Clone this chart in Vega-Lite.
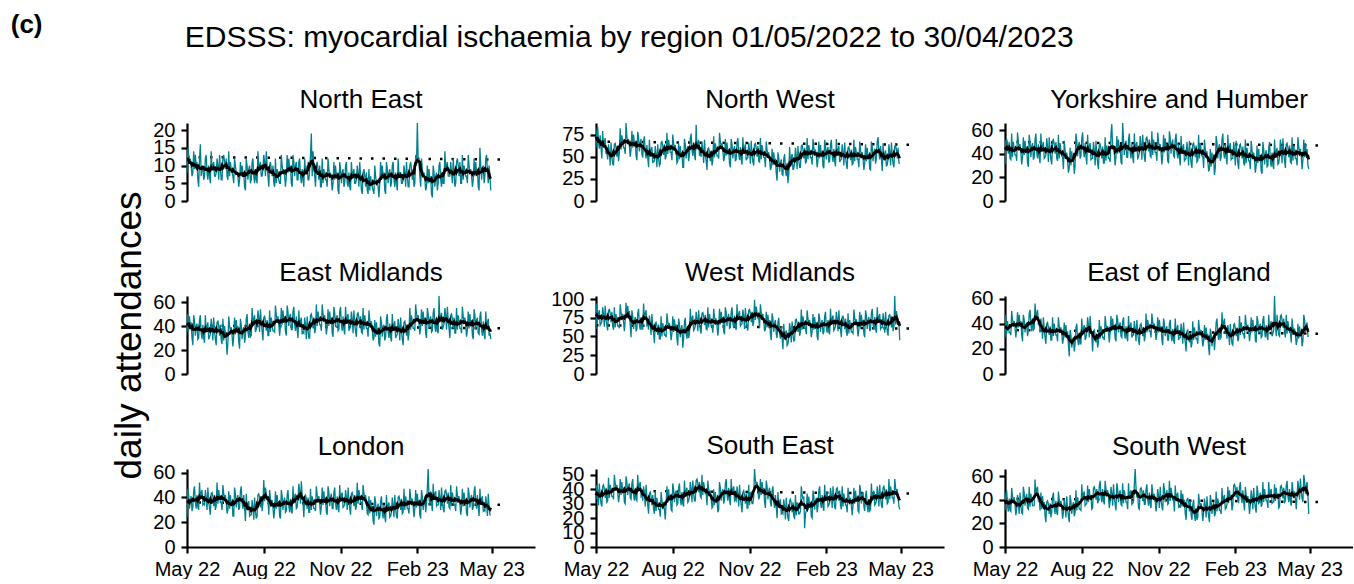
{
"$schema":"https://vega.github.io/schema/vega-lite/v6.json",
"background":"white",
"padding":{"left":10,"top":12,"right":0,"bottom":0},
"config":{
"font":"Liberation Sans",
"view":{"stroke":null},
"axis":{"domainColor":"black","domainWidth":2.2,"tickColor":"black","tickWidth":2.2,"tickSize":6,"labelColor":"black","labelFontSize":20,"labelPadding":6,"grid":false,"titleColor":"black","titleFontWeight":"normal","titleFontSize":37,"titlePadding":4},
"axisX":{"labelPadding":6},
"axisY":{"labelOverlap":false},
"title":{"font":"Liberation Sans","fontSize":26,"fontWeight":"normal","color":"black","offset":7}
},
"datasets":{"daily":[
{"d":"2022-05-01","t":"b","a":12.4,"b":67,"c":50,"e":40.5,"f":65,"g":35,"h":36,"i":39,"j":41},
{"d":"2023-05-16","t":"b","a":11.7,"b":63.5,"c":47,"e":38,"f":60.5,"g":32,"h":34,"i":37,"j":38},
{"d":"2022-05-01","a":8,"b":60,"c":31,"e":35,"f":60,"g":29,"h":24,"i":33,"j":31},
{"d":"2022-05-02","a":15,"b":79,"c":51,"e":50,"f":94,"g":47,"h":47,"i":43,"j":44},
{"d":"2022-05-03","a":13,"b":84,"c":52,"e":36,"f":73,"g":32,"h":42,"i":38,"j":48},
{"d":"2022-05-04","a":11,"b":66,"c":48,"e":48,"f":81,"g":42,"h":31,"i":29,"j":35},
{"d":"2022-05-05","a":12,"b":59,"c":40,"e":39,"f":85,"g":37,"h":38,"i":44,"j":30},
{"d":"2022-05-06","a":10,"b":74,"c":50,"e":43,"f":65,"g":33,"h":41,"i":35,"j":41},
{"d":"2022-05-07","a":7,"b":60,"c":36,"e":30,"f":67,"g":33,"h":29,"i":30,"j":31},
{"d":"2022-05-08","a":8,"b":48,"c":35,"e":24,"f":70,"g":31,"h":32,"i":28,"j":30},
{"d":"2022-05-09","a":14,"b":79,"c":57,"e":49,"f":89,"g":50,"h":45,"i":42,"j":50},
{"d":"2022-05-10","a":9,"b":60,"c":37,"e":44,"f":80,"g":43,"h":49,"i":43,"j":43},
{"d":"2022-05-11","a":13,"b":67,"c":50,"e":32,"f":63,"g":40,"h":36,"i":40,"j":39},
{"d":"2022-05-12","a":10,"b":71,"c":44,"e":40,"f":91,"g":42,"h":31,"i":34,"j":42},
{"d":"2022-05-13","a":11,"b":53,"c":39,"e":42,"f":74,"g":37,"h":42,"i":41,"j":36},
{"d":"2022-05-14","a":6,"b":55,"c":39,"e":29,"f":65,"g":29,"h":32,"i":31,"j":27},
{"d":"2022-05-15","a":4,"b":47,"c":34,"e":30,"f":58,"g":36,"h":30,"i":32,"j":32},
{"d":"2022-05-16","a":12,"b":64,"c":58,"e":45,"f":85,"g":49,"h":52,"i":48,"j":44},
{"d":"2022-05-17","a":16,"b":55,"c":50,"e":49,"f":86,"g":37,"h":39,"i":34,"j":38},
{"d":"2022-05-18","a":7,"b":40,"c":45,"e":34,"f":81,"g":47,"h":44,"i":43,"j":28},
{"d":"2022-05-19","a":9,"b":66,"c":48,"e":29,"f":69,"g":39,"h":46,"i":39,"j":46},
{"d":"2022-05-20","a":10,"b":50,"c":41,"e":41,"f":83,"g":42,"h":34,"i":35,"j":35},
{"d":"2022-05-21","a":6,"b":42,"c":31,"e":30,"f":64,"g":31,"h":35,"i":35,"j":29},
{"d":"2022-05-22","a":7,"b":40,"c":37,"e":26,"f":59,"g":26,"h":34,"i":33,"j":28},
{"d":"2022-05-23","a":12,"b":64,"c":54,"e":49,"f":89,"g":47,"h":46,"i":50,"j":51},
{"d":"2022-05-24","a":13,"b":65,"c":39,"e":35,"f":62,"g":43,"h":40,"i":44,"j":46},
{"d":"2022-05-25","a":8,"b":60,"c":51,"e":40,"f":80,"g":33,"h":30,"i":41,"j":35},
{"d":"2022-05-26","a":6,"b":50,"c":42,"e":43,"f":72,"g":39,"h":48,"i":43,"j":42},
{"d":"2022-05-27","a":10,"b":62,"c":46,"e":29,"f":64,"g":41,"h":37,"i":38,"j":45},
{"d":"2022-05-28","a":7,"b":45,"c":32,"e":31,"f":64,"g":30,"h":31,"i":31,"j":33},
{"d":"2022-05-29","a":5,"b":55,"c":29,"e":33,"f":61,"g":35,"h":26,"i":35,"j":32},
{"d":"2022-05-30","a":14,"b":82,"c":56,"e":46,"f":93,"g":48,"h":43,"i":47,"j":51},
{"d":"2022-05-31","a":9,"b":58,"c":50,"e":40,"f":82,"g":51,"h":44,"i":36,"j":34},
{"d":"2022-06-01","a":10,"b":74,"c":37,"e":28,"f":76,"g":39,"h":41,"i":45,"j":45},
{"d":"2022-06-02","a":11,"b":67,"c":46,"e":47,"f":80,"g":34,"h":33,"i":38,"j":40},
{"d":"2022-06-03","a":7,"b":60,"c":49,"e":36,"f":70,"g":44,"h":42,"i":41,"j":35},
{"d":"2022-06-04","a":7,"b":60,"c":35,"e":29,"f":57,"g":35,"h":30,"i":31,"j":35},
{"d":"2022-06-05","a":8,"b":53,"c":37,"e":24,"f":72,"g":36,"h":33,"i":30,"j":35},
{"d":"2022-06-06","a":12,"b":88,"c":52,"e":43,"f":95,"g":56,"h":52,"i":49,"j":57},
{"d":"2022-06-07","a":10,"b":72,"c":57,"e":44,"f":74,"g":44,"h":35,"i":45,"j":44},
{"d":"2022-06-08","a":6,"b":67,"c":41,"e":40,"f":91,"g":48,"h":46,"i":36,"j":49},
{"d":"2022-06-09","a":13,"b":70,"c":36,"e":32,"f":78,"g":51,"h":41,"i":42,"j":51},
{"d":"2022-06-10","a":9,"b":62,"c":48,"e":41,"f":84,"g":39,"h":36,"i":44,"j":39},
{"d":"2022-06-11","a":6,"b":50,"c":37,"e":28,"f":65,"g":41,"h":36,"i":34,"j":40},
{"d":"2022-06-12","a":6,"b":58,"c":32,"e":25,"f":49,"g":33,"h":30,"i":33,"j":31},
{"d":"2022-06-13","a":12,"b":79,"c":57,"e":46,"f":85,"g":44,"h":50,"i":44,"j":46},
{"d":"2022-06-14","a":13,"b":60,"c":42,"e":28,"f":78,"g":38,"h":43,"i":47,"j":32},
{"d":"2022-06-15","a":11,"b":75,"c":47,"e":40,"f":60,"g":28,"h":39,"i":36,"j":43},
{"d":"2022-06-16","a":9,"b":63,"c":50,"e":34,"f":72,"g":45,"h":42,"i":32,"j":35},
{"d":"2022-06-17","a":12,"b":68,"c":36,"e":29,"f":76,"g":35,"h":36,"i":41,"j":38},
{"d":"2022-06-18","a":7,"b":51,"c":37,"e":16,"f":57,"g":29,"h":27,"i":33,"j":26},
{"d":"2022-06-19","a":6,"b":46,"c":39,"e":26,"f":60,"g":24,"h":30,"i":32,"j":21},
{"d":"2022-06-20","a":14,"b":78,"c":53,"e":48,"f":81,"g":40,"h":45,"i":50,"j":38},
{"d":"2022-06-21","a":7,"b":72,"c":46,"e":40,"f":87,"g":41,"h":31,"i":39,"j":39},
{"d":"2022-06-22","a":11,"b":56,"c":33,"e":36,"f":66,"g":37,"h":42,"i":43,"j":36},
{"d":"2022-06-23","a":9,"b":66,"c":54,"e":39,"f":59,"g":31,"h":34,"i":45,"j":28},
{"d":"2022-06-24","a":8,"b":70,"c":42,"e":32,"f":76,"g":38,"h":37,"i":35,"j":37},
{"d":"2022-06-25","a":7,"b":53,"c":35,"e":23,"f":60,"g":27,"h":25,"i":36,"j":25},
{"d":"2022-06-26","a":5,"b":49,"c":31,"e":32,"f":60,"g":27,"h":25,"i":32,"j":29},
{"d":"2022-06-27","a":12,"b":68,"c":51,"e":47,"f":94,"g":45,"h":48,"i":42,"j":42},
{"d":"2022-06-28","a":10,"b":73,"c":52,"e":33,"f":73,"g":30,"h":43,"i":37,"j":46},
{"d":"2022-06-29","a":8,"b":55,"c":48,"e":45,"f":81,"g":40,"h":32,"i":28,"j":33},
{"d":"2022-06-30","a":8,"b":48,"c":40,"e":36,"f":85,"g":35,"h":39,"i":43,"j":28},
{"d":"2022-07-01","a":7,"b":63,"c":50,"e":40,"f":65,"g":31,"h":42,"i":34,"j":39},
{"d":"2022-07-02","a":4,"b":49,"c":36,"e":27,"f":67,"g":31,"h":30,"i":29,"j":29},
{"d":"2022-07-03","a":6,"b":38,"c":34,"e":21,"f":59,"g":26,"h":32,"i":23,"j":27},
{"d":"2022-07-04","a":11,"b":69,"c":56,"e":46,"f":78,"g":45,"h":45,"i":37,"j":47},
{"d":"2022-07-05","a":7,"b":50,"c":36,"e":41,"f":69,"g":38,"h":49,"i":38,"j":40},
{"d":"2022-07-06","a":10,"b":57,"c":49,"e":29,"f":52,"g":35,"h":36,"i":35,"j":36},
{"d":"2022-07-07","a":8,"b":61,"c":43,"e":37,"f":80,"g":37,"h":31,"i":29,"j":39},
{"d":"2022-07-08","a":8,"b":43,"c":38,"e":39,"f":63,"g":32,"h":42,"i":36,"j":33},
{"d":"2022-07-09","a":4,"b":45,"c":38,"e":26,"f":54,"g":24,"h":32,"i":26,"j":24},
{"d":"2022-07-10","a":3,"b":45,"c":27,"e":31,"f":41,"g":28,"h":21,"i":23,"j":29},
{"d":"2022-07-11","a":12,"b":62,"c":51,"e":46,"f":68,"g":41,"h":43,"i":39,"j":41},
{"d":"2022-07-12","a":10,"b":53,"c":43,"e":50,"f":69,"g":29,"h":30,"i":25,"j":35},
{"d":"2022-07-13","a":6,"b":38,"c":38,"e":35,"f":64,"g":39,"h":35,"i":34,"j":25},
{"d":"2022-07-14","a":9,"b":64,"c":41,"e":30,"f":52,"g":31,"h":37,"i":30,"j":43},
{"d":"2022-07-15","a":10,"b":48,"c":34,"e":42,"f":66,"g":34,"h":25,"i":26,"j":32},
{"d":"2022-07-16","a":5,"b":40,"c":24,"e":31,"f":47,"g":23,"h":26,"i":26,"j":26},
{"d":"2022-07-17","a":6,"b":42,"c":28,"e":32,"f":47,"g":14,"h":26,"i":21,"j":21},
{"d":"2022-07-18","a":11,"b":66,"c":45,"e":55,"f":77,"g":35,"h":38,"i":38,"j":44},
{"d":"2022-07-19","a":12,"b":67,"c":30,"e":41,"f":50,"g":31,"h":32,"i":32,"j":39},
{"d":"2022-07-20","a":7,"b":62,"c":42,"e":46,"f":68,"g":21,"h":22,"i":29,"j":28},
{"d":"2022-07-21","a":5,"b":52,"c":33,"e":49,"f":60,"g":27,"h":40,"i":31,"j":35},
{"d":"2022-07-22","a":9,"b":64,"c":37,"e":35,"f":52,"g":29,"h":29,"i":26,"j":38},
{"d":"2022-07-23","a":6,"b":47,"c":23,"e":37,"f":52,"g":18,"h":23,"i":19,"j":26},
{"d":"2022-07-24","a":5,"b":50,"c":30,"e":40,"f":49,"g":24,"h":25,"i":30,"j":29},
{"d":"2022-07-25","a":14,"b":77,"c":57,"e":53,"f":81,"g":37,"h":42,"i":42,"j":48},
{"d":"2022-07-26","a":9,"b":53,"c":51,"e":47,"f":70,"g":40,"h":43,"i":31,"j":31},
{"d":"2022-07-27","a":10,"b":69,"c":38,"e":35,"f":64,"g":28,"h":40,"i":40,"j":42},
{"d":"2022-07-28","a":11,"b":62,"c":47,"e":54,"f":68,"g":23,"h":32,"i":33,"j":37},
{"d":"2022-07-29","a":7,"b":55,"c":50,"e":43,"f":58,"g":33,"h":41,"i":36,"j":32},
{"d":"2022-07-30","a":7,"b":55,"c":36,"e":36,"f":45,"g":24,"h":29,"i":26,"j":32},
{"d":"2022-07-31","a":9,"b":46,"c":38,"e":28,"f":54,"g":24,"h":35,"i":25,"j":31},
{"d":"2022-08-01","a":13,"b":75,"c":53,"e":47,"f":77,"g":44,"h":54,"i":44,"j":53},
{"d":"2022-08-02","a":11,"b":65,"c":58,"e":48,"f":56,"g":32,"h":37,"i":40,"j":40},
{"d":"2022-08-03","a":7,"b":60,"c":42,"e":44,"f":73,"g":36,"h":48,"i":31,"j":45},
{"d":"2022-08-04","a":14,"b":63,"c":37,"e":36,"f":60,"g":39,"h":43,"i":37,"j":47},
{"d":"2022-08-05","a":10,"b":55,"c":49,"e":45,"f":66,"g":27,"h":38,"i":39,"j":35},
{"d":"2022-08-06","a":7,"b":43,"c":38,"e":32,"f":47,"g":29,"h":38,"i":29,"j":36},
{"d":"2022-08-07","a":4,"b":45,"c":31,"e":32,"f":38,"g":34,"h":26,"i":30,"j":37},
{"d":"2022-08-08","a":10,"b":66,"c":56,"e":53,"f":74,"g":45,"h":46,"i":41,"j":52},
{"d":"2022-08-09","a":11,"b":47,"c":41,"e":35,"f":67,"g":39,"h":39,"i":44,"j":38},
{"d":"2022-08-10","a":9,"b":62,"c":46,"e":47,"f":49,"g":29,"h":35,"i":33,"j":49},
{"d":"2022-08-11","a":7,"b":50,"c":49,"e":41,"f":61,"g":46,"h":38,"i":29,"j":41},
{"d":"2022-08-12","a":10,"b":55,"c":35,"e":36,"f":65,"g":36,"h":32,"i":38,"j":44},
{"d":"2022-08-13","a":5,"b":38,"c":36,"e":36,"f":35,"g":30,"h":23,"i":30,"j":32},
{"d":"2022-08-14","a":4,"b":38,"c":36,"e":35,"f":48,"g":18,"h":30,"i":28,"j":33},
{"d":"2022-08-15","a":12,"b":70,"c":50,"e":57,"f":69,"g":34,"h":45,"i":46,"j":50},
{"d":"2022-08-16","a":5,"b":64,"c":43,"e":49,"f":75,"g":35,"h":31,"i":35,"j":51},
{"d":"2022-08-17","a":9,"b":48,"c":30,"e":45,"f":54,"g":31,"h":42,"i":39,"j":48},
{"d":"2022-08-18","a":7,"b":58,"c":51,"e":48,"f":47,"g":25,"h":34,"i":41,"j":40},
{"d":"2022-08-19","a":6,"b":62,"c":39,"e":41,"f":64,"g":32,"h":37,"i":31,"j":49},
{"d":"2022-08-20","a":5,"b":45,"c":32,"e":32,"f":48,"g":21,"h":25,"i":32,"j":37},
{"d":"2022-08-21","a":5,"b":52,"c":27,"e":40,"f":53,"g":25,"h":23,"i":35,"j":39},
{"d":"2022-08-22","a":13,"b":71,"c":47,"e":55,"f":87,"g":43,"h":46,"i":45,"j":52},
{"d":"2022-08-23","a":10,"b":76,"c":48,"e":41,"f":66,"g":28,"h":41,"i":40,"j":56},
{"d":"2022-08-24","a":8,"b":58,"c":44,"e":53,"f":74,"g":38,"h":30,"i":31,"j":43},
{"d":"2022-08-25","a":9,"b":51,"c":36,"e":44,"f":78,"g":33,"h":37,"i":46,"j":38},
{"d":"2022-08-26","a":7,"b":66,"c":46,"e":48,"f":58,"g":29,"h":40,"i":37,"j":49},
{"d":"2022-08-27","a":4,"b":52,"c":32,"e":35,"f":60,"g":29,"h":28,"i":32,"j":39},
{"d":"2022-08-28","a":7,"b":46,"c":32,"e":32,"f":64,"g":27,"h":29,"i":32,"j":36},
{"d":"2022-08-29","a":13,"b":86,"c":54,"e":57,"f":83,"g":46,"h":42,"i":46,"j":56},
{"d":"2022-08-30","a":8,"b":58,"c":34,"e":52,"f":74,"g":39,"h":46,"i":47,"j":49},
{"d":"2022-08-31","a":12,"b":65,"c":47,"e":40,"f":57,"g":36,"h":33,"i":44,"j":45},
{"d":"2022-09-01","a":9,"b":69,"c":41,"e":48,"f":85,"g":38,"h":28,"i":38,"j":48},
{"d":"2022-09-02","a":10,"b":51,"c":36,"e":50,"f":68,"g":33,"h":39,"i":45,"j":42},
{"d":"2022-09-03","a":5,"b":53,"c":36,"e":37,"f":59,"g":25,"h":29,"i":35,"j":33},
{"d":"2022-09-04","a":4,"b":50,"c":33,"e":37,"f":54,"g":33,"h":27,"i":34,"j":39},
{"d":"2022-09-05","a":13,"b":67,"c":57,"e":52,"f":81,"g":46,"h":49,"i":50,"j":51},
{"d":"2022-09-06","a":11,"b":58,"c":65,"e":56,"f":82,"g":34,"h":36,"i":36,"j":45},
{"d":"2022-09-07","a":7,"b":43,"c":44,"e":41,"f":77,"g":44,"h":41,"i":45,"j":35},
{"d":"2022-09-08","a":10,"b":69,"c":47,"e":36,"f":65,"g":36,"h":43,"i":41,"j":53},
{"d":"2022-09-09","a":11,"b":53,"c":40,"e":48,"f":79,"g":39,"h":31,"i":37,"j":42},
{"d":"2022-09-10","a":6,"b":45,"c":30,"e":37,"f":60,"g":28,"h":32,"i":37,"j":36},
{"d":"2022-09-11","a":6,"b":35,"c":38,"e":30,"f":59,"g":26,"h":39,"i":29,"j":31},
{"d":"2022-09-12","a":11,"b":59,"c":55,"e":53,"f":89,"g":47,"h":51,"i":46,"j":54},
{"d":"2022-09-13","a":12,"b":60,"c":40,"e":39,"f":62,"g":43,"h":45,"i":40,"j":49},
{"d":"2022-09-14","a":7,"b":55,"c":52,"e":44,"f":80,"g":33,"h":35,"i":37,"j":38},
{"d":"2022-09-15","a":5,"b":45,"c":43,"e":47,"f":72,"g":39,"h":53,"i":39,"j":45},
{"d":"2022-09-16","a":9,"b":57,"c":47,"e":33,"f":64,"g":41,"h":42,"i":34,"j":48},
{"d":"2022-09-17","a":6,"b":40,"c":33,"e":35,"f":64,"g":30,"h":36,"i":27,"j":36},
{"d":"2022-09-18","a":4,"b":46,"c":31,"e":34,"f":55,"g":29,"h":24,"i":28,"j":35},
{"d":"2022-09-19","a":12,"b":73,"c":66,"e":47,"f":87,"g":42,"h":41,"i":40,"j":54},
{"d":"2022-09-20","a":8,"b":49,"c":52,"e":41,"f":76,"g":45,"h":42,"i":29,"j":37},
{"d":"2022-09-21","a":9,"b":65,"c":39,"e":29,"f":70,"g":33,"h":39,"i":38,"j":48},
{"d":"2022-09-22","a":10,"b":58,"c":48,"e":48,"f":74,"g":28,"h":31,"i":31,"j":43},
{"d":"2022-09-23","a":6,"b":51,"c":51,"e":37,"f":64,"g":38,"h":40,"i":34,"j":38},
{"d":"2022-09-24","a":6,"b":51,"c":37,"e":30,"f":51,"g":29,"h":28,"i":24,"j":38},
{"d":"2022-09-25","a":9,"b":48,"c":37,"e":30,"f":64,"g":26,"h":28,"i":26,"j":32},
{"d":"2022-09-26","a":13,"b":77,"c":52,"e":49,"f":87,"g":46,"h":47,"i":45,"j":54},
{"d":"2022-09-27","a":19,"b":67,"c":57,"e":50,"f":66,"g":34,"h":30,"i":41,"j":41},
{"d":"2022-09-28","a":7,"b":62,"c":41,"e":46,"f":83,"g":38,"h":41,"i":32,"j":46},
{"d":"2022-09-29","a":14,"b":65,"c":36,"e":38,"f":70,"g":41,"h":36,"i":38,"j":48},
{"d":"2022-09-30","a":10,"b":57,"c":48,"e":47,"f":76,"g":29,"h":31,"i":40,"j":36},
{"d":"2022-10-01","a":7,"b":45,"c":37,"e":34,"f":57,"g":31,"h":31,"i":30,"j":37},
{"d":"2022-10-02","a":4,"b":49,"c":32,"e":37,"f":53,"g":31,"h":29,"i":33,"j":38},
{"d":"2022-10-03","a":10,"b":70,"c":57,"e":58,"f":89,"g":42,"h":49,"i":44,"j":53},
{"d":"2022-10-04","a":11,"b":51,"c":42,"e":40,"f":82,"g":36,"h":42,"i":47,"j":66},
{"d":"2022-10-05","a":9,"b":66,"c":47,"e":52,"f":64,"g":26,"h":38,"i":36,"j":50},
{"d":"2022-10-06","a":6,"b":54,"c":50,"e":46,"f":76,"g":43,"h":41,"i":32,"j":42},
{"d":"2022-10-07","a":10,"b":59,"c":36,"e":41,"f":80,"g":33,"h":35,"i":41,"j":45},
{"d":"2022-10-08","a":4,"b":42,"c":37,"e":41,"f":61,"g":27,"h":26,"i":33,"j":33},
{"d":"2022-10-09","a":4,"b":38,"c":41,"e":36,"f":62,"g":23,"h":33,"i":29,"j":32},
{"d":"2022-10-10","a":12,"b":70,"c":55,"e":58,"f":83,"g":39,"h":48,"i":47,"j":49},
{"d":"2022-10-11","a":5,"b":64,"c":48,"e":50,"f":89,"g":40,"h":34,"i":36,"j":50},
{"d":"2022-10-12","a":9,"b":48,"c":35,"e":46,"f":68,"g":36,"h":45,"i":40,"j":47},
{"d":"2022-10-13","a":7,"b":58,"c":56,"e":49,"f":61,"g":30,"h":37,"i":42,"j":39},
{"d":"2022-10-14","a":6,"b":62,"c":44,"e":42,"f":78,"g":37,"h":40,"i":32,"j":48},
{"d":"2022-10-15","a":6,"b":45,"c":37,"e":33,"f":62,"g":26,"h":28,"i":33,"j":36},
{"d":"2022-10-16","a":4,"b":47,"c":33,"e":39,"f":59,"g":30,"h":26,"i":32,"j":36},
{"d":"2022-10-17","a":12,"b":66,"c":53,"e":54,"f":93,"g":48,"h":49,"i":42,"j":49},
{"d":"2022-10-18","a":9,"b":71,"c":54,"e":40,"f":72,"g":33,"h":44,"i":37,"j":53},
{"d":"2022-10-19","a":7,"b":53,"c":50,"e":52,"f":80,"g":43,"h":33,"i":28,"j":40},
{"d":"2022-10-20","a":8,"b":46,"c":42,"e":43,"f":84,"g":38,"h":40,"i":43,"j":35},
{"d":"2022-10-21","a":6,"b":61,"c":52,"e":47,"f":64,"g":34,"h":43,"i":34,"j":46},
{"d":"2022-10-22","a":3,"b":47,"c":38,"e":34,"f":66,"g":34,"h":31,"i":29,"j":36},
{"d":"2022-10-23","a":5,"b":41,"c":37,"e":31,"f":67,"g":29,"h":31,"i":24,"j":33},
{"d":"2022-10-24","a":11,"b":72,"c":59,"e":56,"f":86,"g":48,"h":44,"i":38,"j":53},
{"d":"2022-10-25","a":6,"b":53,"c":39,"e":51,"f":77,"g":41,"h":48,"i":39,"j":46},
{"d":"2022-10-26","a":10,"b":60,"c":52,"e":39,"f":60,"g":38,"h":35,"i":36,"j":42},
{"d":"2022-10-27","a":7,"b":64,"c":46,"e":47,"f":88,"g":40,"h":30,"i":30,"j":45},
{"d":"2022-10-28","a":8,"b":46,"c":41,"e":49,"f":71,"g":35,"h":41,"i":37,"j":39},
{"d":"2022-10-29","a":3,"b":48,"c":41,"e":36,"f":62,"g":27,"h":31,"i":27,"j":30},
{"d":"2022-10-30","a":2,"b":49,"c":34,"e":37,"f":58,"g":32,"h":28,"i":27,"j":37},
{"d":"2022-10-31","a":11,"b":66,"c":58,"e":52,"f":85,"g":45,"h":50,"i":43,"j":49},
{"d":"2022-11-01","a":9,"b":57,"c":50,"e":56,"f":86,"g":33,"h":37,"i":29,"j":43},
{"d":"2022-11-02","a":5,"b":42,"c":45,"e":41,"f":81,"g":43,"h":42,"i":38,"j":33},
{"d":"2022-11-03","a":8,"b":68,"c":48,"e":36,"f":69,"g":35,"h":44,"i":34,"j":51},
{"d":"2022-11-04","a":9,"b":52,"c":41,"e":48,"f":83,"g":38,"h":32,"i":30,"j":40},
{"d":"2022-11-05","a":4,"b":44,"c":31,"e":37,"f":64,"g":27,"h":33,"i":30,"j":34},
{"d":"2022-11-06","a":5,"b":40,"c":39,"e":33,"f":69,"g":23,"h":34,"i":35,"j":31},
{"d":"2022-11-07","a":10,"b":64,"c":56,"e":56,"f":99,"g":44,"h":46,"i":54,"j":54},
{"d":"2022-11-08","a":11,"b":65,"c":41,"e":42,"f":72,"g":40,"h":40,"i":46,"j":49},
{"d":"2022-11-09","a":5,"b":60,"c":53,"e":47,"f":90,"g":30,"h":30,"i":43,"j":38},
{"d":"2022-11-10","a":4,"b":50,"c":44,"e":50,"f":82,"g":36,"h":48,"i":45,"j":45},
{"d":"2022-11-11","a":8,"b":62,"c":48,"e":36,"f":74,"g":38,"h":37,"i":40,"j":48},
{"d":"2022-11-12","a":4,"b":45,"c":34,"e":38,"f":74,"g":27,"h":31,"i":33,"j":36},
{"d":"2022-11-13","a":3,"b":44,"c":32,"e":39,"f":61,"g":27,"h":26,"i":35,"j":37},
{"d":"2022-11-14","a":11,"b":71,"c":59,"e":52,"f":93,"g":40,"h":43,"i":47,"j":56},
{"d":"2022-11-15","a":7,"b":47,"c":53,"e":46,"f":82,"g":43,"h":44,"i":36,"j":39},
{"d":"2022-11-16","a":8,"b":63,"c":40,"e":34,"f":76,"g":31,"h":41,"i":45,"j":50},
{"d":"2022-11-17","a":9,"b":56,"c":49,"e":53,"f":80,"g":26,"h":33,"i":38,"j":45},
{"d":"2022-11-18","a":5,"b":49,"c":52,"e":42,"f":70,"g":36,"h":42,"i":41,"j":40},
{"d":"2022-11-19","a":5,"b":49,"c":38,"e":35,"f":57,"g":27,"h":30,"i":31,"j":40},
{"d":"2022-11-20","a":6,"b":38,"c":37,"e":31,"f":60,"g":24,"h":33,"i":27,"j":30},
{"d":"2022-11-21","a":10,"b":67,"c":52,"e":50,"f":83,"g":44,"h":52,"i":46,"j":52},
{"d":"2022-11-22","a":8,"b":57,"c":57,"e":51,"f":62,"g":32,"h":35,"i":42,"j":39},
{"d":"2022-11-23","a":4,"b":52,"c":41,"e":47,"f":79,"g":36,"h":46,"i":33,"j":44},
{"d":"2022-11-24","a":11,"b":55,"c":36,"e":39,"f":66,"g":39,"h":41,"i":39,"j":46},
{"d":"2022-11-25","a":7,"b":47,"c":48,"e":48,"f":72,"g":27,"h":36,"i":41,"j":34},
{"d":"2022-11-26","a":3,"b":35,"c":37,"e":35,"f":53,"g":29,"h":36,"i":31,"j":35},
{"d":"2022-11-27","a":2,"b":38,"c":30,"e":34,"f":45,"g":29,"h":30,"i":28,"j":33},
{"d":"2022-11-28","a":8,"b":59,"c":55,"e":55,"f":81,"g":40,"h":50,"i":39,"j":48},
{"d":"2022-11-29","a":9,"b":40,"c":40,"e":37,"f":74,"g":34,"h":43,"i":42,"j":34},
{"d":"2022-11-30","a":7,"b":55,"c":45,"e":49,"f":56,"g":24,"h":39,"i":31,"j":45},
{"d":"2022-12-01","a":4,"b":43,"c":48,"e":43,"f":68,"g":41,"h":42,"i":27,"j":37},
{"d":"2022-12-02","a":8,"b":48,"c":34,"e":38,"f":72,"g":31,"h":36,"i":36,"j":40},
{"d":"2022-12-03","a":3,"b":31,"c":35,"e":38,"f":53,"g":25,"h":27,"i":28,"j":28},
{"d":"2022-12-04","a":2,"b":23,"c":36,"e":31,"f":48,"g":18,"h":26,"i":20,"j":23},
{"d":"2022-12-05","a":9,"b":55,"c":50,"e":53,"f":69,"g":34,"h":41,"i":38,"j":40},
{"d":"2022-12-06","a":3,"b":49,"c":43,"e":45,"f":75,"g":35,"h":27,"i":27,"j":41},
{"d":"2022-12-07","a":7,"b":33,"c":30,"e":41,"f":54,"g":31,"h":38,"i":31,"j":38},
{"d":"2022-12-08","a":5,"b":43,"c":51,"e":44,"f":47,"g":25,"h":30,"i":33,"j":30},
{"d":"2022-12-09","a":4,"b":47,"c":39,"e":37,"f":64,"g":32,"h":33,"i":23,"j":39},
{"d":"2022-12-10","a":3,"b":30,"c":32,"e":28,"f":48,"g":21,"h":21,"i":24,"j":27},
{"d":"2022-12-11","a":2,"b":29,"c":28,"e":30,"f":33,"g":24,"h":18,"i":23,"j":23},
{"d":"2022-12-12","a":10,"b":48,"c":48,"e":45,"f":67,"g":42,"h":41,"i":33,"j":36},
{"d":"2022-12-13","a":7,"b":53,"c":49,"e":31,"f":46,"g":27,"h":36,"i":28,"j":40},
{"d":"2022-12-14","a":5,"b":35,"c":45,"e":43,"f":54,"g":37,"h":25,"i":19,"j":27},
{"d":"2022-12-15","a":6,"b":28,"c":37,"e":34,"f":58,"g":32,"h":32,"i":34,"j":22},
{"d":"2022-12-16","a":4,"b":43,"c":47,"e":38,"f":38,"g":28,"h":35,"i":25,"j":33},
{"d":"2022-12-17","a":1,"b":20,"c":33,"e":25,"f":40,"g":28,"h":23,"i":20,"j":23},
{"d":"2022-12-18","a":5,"b":30,"c":34,"e":23,"f":49,"g":24,"h":24,"i":18,"j":25},
{"d":"2022-12-19","a":11,"b":61,"c":56,"e":48,"f":68,"g":43,"h":37,"i":32,"j":45},
{"d":"2022-12-20","a":6,"b":42,"c":36,"e":43,"f":59,"g":36,"h":41,"i":33,"j":38},
{"d":"2022-12-21","a":10,"b":49,"c":49,"e":31,"f":42,"g":33,"h":28,"i":30,"j":34},
{"d":"2022-12-22","a":7,"b":53,"c":43,"e":39,"f":70,"g":35,"h":23,"i":24,"j":37},
{"d":"2022-12-23","a":8,"b":35,"c":38,"e":41,"f":53,"g":30,"h":34,"i":31,"j":31},
{"d":"2022-12-24","a":3,"b":37,"c":38,"e":28,"f":44,"g":22,"h":24,"i":21,"j":22},
{"d":"2022-12-25","a":2,"b":43,"c":28,"e":31,"f":45,"g":26,"h":20,"i":20,"j":29},
{"d":"2022-12-26","a":11,"b":60,"c":52,"e":46,"f":72,"g":39,"h":42,"i":36,"j":41},
{"d":"2022-12-27","a":9,"b":51,"c":44,"e":50,"f":73,"g":27,"h":29,"i":22,"j":35},
{"d":"2022-12-28","a":5,"b":36,"c":39,"e":35,"f":68,"g":37,"h":34,"i":31,"j":25},
{"d":"2022-12-29","a":8,"b":62,"c":42,"e":30,"f":56,"g":29,"h":36,"i":27,"j":43},
{"d":"2022-12-30","a":9,"b":46,"c":35,"e":42,"f":70,"g":32,"h":24,"i":23,"j":32},
{"d":"2022-12-31","a":4,"b":38,"c":25,"e":31,"f":51,"g":21,"h":25,"i":23,"j":26},
{"d":"2023-01-01","a":5,"b":38,"c":27,"e":27,"f":56,"g":15,"h":28,"i":25,"j":21},
{"d":"2023-01-02","a":10,"b":62,"c":44,"e":50,"f":86,"g":36,"h":40,"i":42,"j":44},
{"d":"2023-01-03","a":11,"b":63,"c":29,"e":36,"f":59,"g":32,"h":34,"i":36,"j":39},
{"d":"2023-01-04","a":6,"b":58,"c":41,"e":41,"f":77,"g":22,"h":24,"i":33,"j":28},
{"d":"2023-01-05","a":4,"b":48,"c":32,"e":44,"f":69,"g":28,"h":42,"i":35,"j":35},
{"d":"2023-01-06","a":8,"b":60,"c":36,"e":30,"f":61,"g":30,"h":31,"i":13,"j":38},
{"d":"2023-01-07","a":5,"b":43,"c":22,"e":32,"f":61,"g":19,"h":25,"i":23,"j":26},
{"d":"2023-01-08","a":3,"b":44,"c":28,"e":33,"f":53,"g":28,"h":23,"i":25,"j":28},
{"d":"2023-01-09","a":12,"b":71,"c":55,"e":46,"f":85,"g":41,"h":40,"i":37,"j":47},
{"d":"2023-01-10","a":7,"b":47,"c":49,"e":40,"f":74,"g":44,"h":41,"i":26,"j":30},
{"d":"2023-01-11","a":8,"b":63,"c":36,"e":28,"f":68,"g":32,"h":38,"i":35,"j":41},
{"d":"2023-01-12","a":8,"b":56,"c":45,"e":47,"f":72,"g":27,"h":30,"i":28,"j":36},
{"d":"2023-01-13","a":5,"b":49,"c":48,"e":36,"f":62,"g":37,"h":39,"i":31,"j":31},
{"d":"2023-01-14","a":5,"b":49,"c":34,"e":29,"f":49,"g":28,"h":27,"i":21,"j":31},
{"d":"2023-01-15","a":6,"b":41,"c":37,"e":24,"f":57,"g":29,"h":28,"i":20,"j":28},
{"d":"2023-01-16","a":10,"b":70,"c":52,"e":43,"f":80,"g":49,"h":47,"i":39,"j":50},
{"d":"2023-01-17","a":8,"b":60,"c":57,"e":44,"f":59,"g":37,"h":30,"i":35,"j":37},
{"d":"2023-01-18","a":4,"b":55,"c":41,"e":40,"f":76,"g":41,"h":41,"i":26,"j":42},
{"d":"2023-01-19","a":11,"b":58,"c":36,"e":32,"f":63,"g":44,"h":36,"i":32,"j":44},
{"d":"2023-01-20","a":7,"b":50,"c":48,"e":41,"f":69,"g":32,"h":31,"i":34,"j":32},
{"d":"2023-01-21","a":4,"b":38,"c":37,"e":28,"f":50,"g":34,"h":31,"i":24,"j":33},
{"d":"2023-01-22","a":4,"b":46,"c":31,"e":34,"f":45,"g":28,"h":27,"i":28,"j":36},
{"d":"2023-01-23","a":10,"b":67,"c":56,"e":55,"f":81,"g":39,"h":47,"i":39,"j":51},
{"d":"2023-01-24","a":11,"b":48,"c":41,"e":37,"f":74,"g":33,"h":40,"i":42,"j":37},
{"d":"2023-01-25","a":9,"b":63,"c":46,"e":49,"f":56,"g":23,"h":36,"i":31,"j":48},
{"d":"2023-01-26","a":6,"b":51,"c":49,"e":43,"f":68,"g":40,"h":39,"i":27,"j":40},
{"d":"2023-01-27","a":9,"b":56,"c":35,"e":38,"f":72,"g":30,"h":33,"i":36,"j":43},
{"d":"2023-01-28","a":4,"b":39,"c":36,"e":38,"f":53,"g":24,"h":24,"i":28,"j":31},
{"d":"2023-01-29","a":5,"b":37,"c":36,"e":36,"f":56,"g":23,"h":31,"i":25,"j":35},
{"d":"2023-01-30","a":13,"b":69,"c":50,"e":58,"f":77,"g":39,"h":46,"i":43,"j":52},
{"d":"2023-01-31","a":10,"b":63,"c":43,"e":50,"f":83,"g":40,"h":32,"i":32,"j":53},
{"d":"2023-02-01","a":22,"b":47,"c":30,"e":46,"f":62,"g":36,"h":43,"i":36,"j":50},
{"d":"2023-02-02","a":12,"b":57,"c":51,"e":49,"f":55,"g":30,"h":35,"i":38,"j":42},
{"d":"2023-02-03","a":11,"b":61,"c":39,"e":42,"f":72,"g":37,"h":38,"i":28,"j":51},
{"d":"2023-02-04","a":7,"b":44,"c":32,"e":33,"f":56,"g":26,"h":26,"i":29,"j":39},
{"d":"2023-02-05","a":4,"b":45,"c":27,"e":39,"f":53,"g":28,"h":23,"i":31,"j":38},
{"d":"2023-02-06","a":12,"b":64,"c":47,"e":54,"f":87,"g":46,"h":46,"i":41,"j":51},
{"d":"2023-02-07","a":9,"b":69,"c":48,"e":40,"f":66,"g":31,"h":41,"i":36,"j":55},
{"d":"2023-02-08","a":7,"b":51,"c":44,"e":52,"f":74,"g":41,"h":30,"i":27,"j":42},
{"d":"2023-02-09","a":8,"b":44,"c":36,"e":43,"f":78,"g":36,"h":37,"i":42,"j":37},
{"d":"2023-02-10","a":6,"b":59,"c":46,"e":47,"f":58,"g":32,"h":40,"i":33,"j":48},
{"d":"2023-02-11","a":3,"b":45,"c":32,"e":34,"f":60,"g":32,"h":28,"i":28,"j":38},
{"d":"2023-02-12","a":4,"b":39,"c":30,"e":30,"f":64,"g":28,"h":35,"i":26,"j":31},
{"d":"2023-02-13","a":10,"b":70,"c":52,"e":55,"f":83,"g":47,"h":48,"i":40,"j":51},
{"d":"2023-02-14","a":5,"b":51,"c":32,"e":50,"f":74,"g":40,"h":63,"i":41,"j":44},
{"d":"2023-02-15","a":9,"b":58,"c":45,"e":38,"f":57,"g":37,"h":39,"i":38,"j":40},
{"d":"2023-02-16","a":6,"b":62,"c":39,"e":46,"f":85,"g":39,"h":34,"i":32,"j":43},
{"d":"2023-02-17","a":7,"b":44,"c":34,"e":48,"f":68,"g":34,"h":45,"i":39,"j":37},
{"d":"2023-02-18","a":2,"b":46,"c":34,"e":35,"f":59,"g":26,"h":35,"i":29,"j":28},
{"d":"2023-02-19","a":1,"b":47,"c":27,"e":36,"f":49,"g":32,"h":29,"i":26,"j":36},
{"d":"2023-02-20","a":10,"b":64,"c":51,"e":51,"f":76,"g":45,"h":51,"i":42,"j":48},
{"d":"2023-02-21","a":8,"b":55,"c":43,"e":55,"f":77,"g":33,"h":38,"i":28,"j":42},
{"d":"2023-02-22","a":4,"b":40,"c":38,"e":40,"f":72,"g":43,"h":43,"i":37,"j":32},
{"d":"2023-02-23","a":7,"b":66,"c":41,"e":35,"f":60,"g":35,"h":45,"i":33,"j":50},
{"d":"2023-02-24","a":8,"b":50,"c":34,"e":47,"f":74,"g":38,"h":33,"i":29,"j":39},
{"d":"2023-02-25","a":3,"b":42,"c":24,"e":36,"f":55,"g":27,"h":34,"i":29,"j":33},
{"d":"2023-02-26","a":5,"b":36,"c":30,"e":34,"f":51,"g":25,"h":34,"i":24,"j":29},
{"d":"2023-02-27","a":10,"b":60,"c":47,"e":65,"f":81,"g":46,"h":46,"i":41,"j":52},
{"d":"2023-02-28","a":11,"b":61,"c":32,"e":43,"f":54,"g":42,"h":40,"i":35,"j":47},
{"d":"2023-03-01","a":6,"b":56,"c":44,"e":48,"f":72,"g":32,"h":30,"i":32,"j":36},
{"d":"2023-03-02","a":4,"b":46,"c":35,"e":51,"f":64,"g":38,"h":48,"i":34,"j":43},
{"d":"2023-03-03","a":8,"b":58,"c":39,"e":37,"f":56,"g":40,"h":37,"i":29,"j":46},
{"d":"2023-03-04","a":5,"b":41,"c":25,"e":39,"f":56,"g":29,"h":31,"i":22,"j":34},
{"d":"2023-03-05","a":5,"b":42,"c":23,"e":42,"f":54,"g":30,"h":28,"i":29,"j":36},
{"d":"2023-03-06","a":14,"b":69,"c":50,"e":55,"f":86,"g":43,"h":45,"i":41,"j":55},
{"d":"2023-03-07","a":9,"b":45,"c":44,"e":49,"f":75,"g":46,"h":46,"i":30,"j":38},
{"d":"2023-03-08","a":10,"b":61,"c":31,"e":37,"f":69,"g":34,"h":43,"i":39,"j":49},
{"d":"2023-03-09","a":11,"b":54,"c":40,"e":56,"f":73,"g":29,"h":35,"i":32,"j":44},
{"d":"2023-03-10","a":7,"b":47,"c":43,"e":45,"f":63,"g":39,"h":44,"i":35,"j":39},
{"d":"2023-03-11","a":7,"b":47,"c":29,"e":38,"f":50,"g":30,"h":32,"i":25,"j":39},
{"d":"2023-03-12","a":7,"b":38,"c":30,"e":30,"f":60,"g":27,"h":31,"i":24,"j":33},
{"d":"2023-03-13","a":11,"b":67,"c":45,"e":49,"f":83,"g":47,"h":50,"i":43,"j":55},
{"d":"2023-03-14","a":8,"b":57,"c":50,"e":50,"f":62,"g":35,"h":33,"i":39,"j":42},
{"d":"2023-03-15","a":5,"b":52,"c":34,"e":46,"f":79,"g":39,"h":44,"i":30,"j":47},
{"d":"2023-03-16","a":12,"b":55,"c":29,"e":38,"f":66,"g":42,"h":39,"i":36,"j":49},
{"d":"2023-03-17","a":8,"b":47,"c":41,"e":47,"f":72,"g":30,"h":34,"i":38,"j":37},
{"d":"2023-03-18","a":4,"b":35,"c":30,"e":34,"f":53,"g":32,"h":34,"i":28,"j":38},
{"d":"2023-03-19","a":5,"b":43,"c":27,"e":34,"f":49,"g":35,"h":29,"i":25,"j":38},
{"d":"2023-03-20","a":11,"b":64,"c":52,"e":55,"f":85,"g":62,"h":49,"i":36,"j":53},
{"d":"2023-03-21","a":12,"b":45,"c":37,"e":37,"f":78,"g":40,"h":42,"i":39,"j":39},
{"d":"2023-03-22","a":10,"b":60,"c":42,"e":49,"f":60,"g":30,"h":38,"i":28,"j":50},
{"d":"2023-03-23","a":7,"b":48,"c":45,"e":43,"f":72,"g":47,"h":41,"i":24,"j":42},
{"d":"2023-03-24","a":11,"b":53,"c":31,"e":38,"f":76,"g":37,"h":35,"i":33,"j":45},
{"d":"2023-03-25","a":5,"b":36,"c":32,"e":38,"f":57,"g":31,"h":26,"i":25,"j":33},
{"d":"2023-03-26","a":5,"b":35,"c":38,"e":34,"f":60,"g":30,"h":32,"i":26,"j":34},
{"d":"2023-03-27","a":13,"b":67,"c":52,"e":56,"f":81,"g":46,"h":47,"i":44,"j":51},
{"d":"2023-03-28","a":6,"b":61,"c":45,"e":48,"f":87,"g":47,"h":33,"i":33,"j":52},
{"d":"2023-03-29","a":10,"b":45,"c":32,"e":44,"f":66,"g":43,"h":44,"i":37,"j":49},
{"d":"2023-03-30","a":8,"b":55,"c":53,"e":47,"f":59,"g":37,"h":36,"i":39,"j":41},
{"d":"2023-03-31","a":7,"b":59,"c":41,"e":40,"f":76,"g":44,"h":39,"i":29,"j":50},
{"d":"2023-04-01","a":7,"b":42,"c":34,"e":31,"f":60,"g":33,"h":27,"i":30,"j":38},
{"d":"2023-04-02","a":5,"b":48,"c":28,"e":37,"f":55,"g":29,"h":25,"i":32,"j":39},
{"d":"2023-04-03","a":13,"b":67,"c":48,"e":52,"f":89,"g":47,"h":48,"i":42,"j":52},
{"d":"2023-04-04","a":10,"b":72,"c":49,"e":38,"f":68,"g":32,"h":43,"i":37,"j":56},
{"d":"2023-04-05","a":8,"b":54,"c":45,"e":50,"f":76,"g":42,"h":32,"i":28,"j":43},
{"d":"2023-04-06","a":9,"b":47,"c":37,"e":41,"f":80,"g":37,"h":39,"i":43,"j":38},
{"d":"2023-04-07","a":7,"b":62,"c":47,"e":45,"f":60,"g":33,"h":42,"i":34,"j":49},
{"d":"2023-04-08","a":4,"b":48,"c":33,"e":32,"f":62,"g":33,"h":30,"i":29,"j":39},
{"d":"2023-04-09","a":6,"b":34,"c":32,"e":29,"f":62,"g":25,"h":32,"i":27,"j":35},
{"d":"2023-04-10","a":12,"b":65,"c":54,"e":54,"f":81,"g":44,"h":45,"i":41,"j":55},
{"d":"2023-04-11","a":7,"b":46,"c":34,"e":49,"f":72,"g":37,"h":49,"i":42,"j":48},
{"d":"2023-04-12","a":11,"b":53,"c":47,"e":37,"f":55,"g":34,"h":36,"i":39,"j":44},
{"d":"2023-04-13","a":8,"b":57,"c":41,"e":45,"f":83,"g":36,"h":31,"i":33,"j":47},
{"d":"2023-04-14","a":9,"b":39,"c":36,"e":47,"f":66,"g":31,"h":42,"i":40,"j":41},
{"d":"2023-04-15","a":4,"b":41,"c":36,"e":34,"f":57,"g":23,"h":32,"i":30,"j":32},
{"d":"2023-04-16","a":3,"b":47,"c":30,"e":33,"f":51,"g":27,"h":25,"i":31,"j":44},
{"d":"2023-04-17","a":15,"b":64,"c":54,"e":48,"f":78,"g":40,"h":47,"i":47,"j":56},
{"d":"2023-04-18","a":10,"b":55,"c":46,"e":52,"f":79,"g":28,"h":34,"i":33,"j":50},
{"d":"2023-04-19","a":6,"b":40,"c":41,"e":37,"f":74,"g":38,"h":39,"i":42,"j":40},
{"d":"2023-04-20","a":9,"b":66,"c":44,"e":32,"f":62,"g":30,"h":41,"i":38,"j":58},
{"d":"2023-04-21","a":10,"b":50,"c":37,"e":44,"f":76,"g":33,"h":29,"i":34,"j":47},
{"d":"2023-04-22","a":5,"b":42,"c":27,"e":33,"f":57,"g":22,"h":30,"i":34,"j":41},
{"d":"2023-04-23","a":7,"b":38,"c":35,"e":29,"f":63,"g":26,"h":29,"i":30,"j":38},
{"d":"2023-04-24","a":12,"b":62,"c":52,"e":52,"f":104,"g":47,"h":41,"i":47,"j":61},
{"d":"2023-04-25","a":13,"b":63,"c":37,"e":38,"f":66,"g":43,"h":35,"i":41,"j":56},
{"d":"2023-04-26","a":8,"b":58,"c":49,"e":43,"f":84,"g":33,"h":25,"i":38,"j":45},
{"d":"2023-04-27","a":5,"b":48,"c":40,"e":46,"f":76,"g":39,"h":43,"i":40,"j":52},
{"d":"2023-04-28","a":10,"b":60,"c":44,"e":32,"f":68,"g":41,"h":32,"i":35,"j":55},
{"d":"2023-04-29","a":7,"b":43,"c":30,"e":34,"f":68,"g":30,"h":26,"i":28,"j":43},
{"d":"2023-04-30","a":3,"b":42,"c":27,"e":29,"f":45,"g":30,"h":26,"i":26,"j":28}
]},
"title":{"text":"(c)","fontSize":26,"fontWeight":"bold","anchor":"start","frame":"bounds","dx":-100,"offset":-15},
"vconcat":[{
"title":{"text":"EDSSS: myocardial ischaemia by region 01/05/2022 to 30/04/2023","fontSize":30,"anchor":"start","frame":"bounds","dx":74,"offset":34},
"columns":3,
"align":"each",
"bounds":"flush",
"spacing":{"row":95,"column":61},
"concat":[
{"title":"North East","width":348,"height":78,"data":{"name":"daily"},
"encoding":{"x":{"field":"d","type":"temporal","scale":{"type":"utc","domain":[{"year":2022,"month":5,"date":1,"utc":true},{"year":2023,"month":6,"date":22,"utc":true}]},"axis":null},
"y":{"field":"a","type":"quantitative","scale":{"nice":false},"axis":{"values":[0,5,10,15,20]},"title":null}},
"layer":[
{"transform":[{"filter":"datum.t=='b'"}],"mark":{"type":"line","color":"black","strokeDash":[2.5,9],"strokeWidth":2.5},"encoding":{}},
{"transform":[{"filter":"datum.t!='b'"}],"mark":{"type":"line","color":"#00808F","strokeWidth":1.3},"encoding":{}},
{"transform":[{"filter":"datum.t!='b'"},{"window":[{"op":"mean","field":"a","as":"m"}],"frame":[-3,3],"sort":[{"field":"d"}]}],"mark":{"type":"line","color":"black","strokeWidth":2.8},"encoding":{"y":{"field":"m","type":"quantitative","axis":{"values":[0,5,10,15,20]},"title":null}}}
]},
{"title":"North West","width":348,"height":78,"data":{"name":"daily"},
"encoding":{"x":{"field":"d","type":"temporal","scale":{"type":"utc","domain":[{"year":2022,"month":5,"date":1,"utc":true},{"year":2023,"month":6,"date":22,"utc":true}]},"axis":null},
"y":{"field":"b","type":"quantitative","scale":{"nice":false},"axis":{"values":[0,25,50,75]},"title":null}},
"layer":[
{"transform":[{"filter":"datum.t=='b'"}],"mark":{"type":"line","color":"black","strokeDash":[2.5,9],"strokeWidth":2.5},"encoding":{}},
{"transform":[{"filter":"datum.t!='b'"}],"mark":{"type":"line","color":"#00808F","strokeWidth":1.3},"encoding":{}},
{"transform":[{"filter":"datum.t!='b'"},{"window":[{"op":"mean","field":"b","as":"m"}],"frame":[-3,3],"sort":[{"field":"d"}]}],"mark":{"type":"line","color":"black","strokeWidth":2.8},"encoding":{"y":{"field":"m","type":"quantitative","axis":{"values":[0,25,50,75]},"title":null}}}
]},
{"title":"Yorkshire and Humber","width":348,"height":78,"data":{"name":"daily"},
"encoding":{"x":{"field":"d","type":"temporal","scale":{"type":"utc","domain":[{"year":2022,"month":5,"date":1,"utc":true},{"year":2023,"month":6,"date":22,"utc":true}]},"axis":null},
"y":{"field":"c","type":"quantitative","scale":{"nice":false},"axis":{"values":[0,20,40,60]},"title":null}},
"layer":[
{"transform":[{"filter":"datum.t=='b'"}],"mark":{"type":"line","color":"black","strokeDash":[2.5,9],"strokeWidth":2.5},"encoding":{}},
{"transform":[{"filter":"datum.t!='b'"}],"mark":{"type":"line","color":"#00808F","strokeWidth":1.3},"encoding":{}},
{"transform":[{"filter":"datum.t!='b'"},{"window":[{"op":"mean","field":"c","as":"m"}],"frame":[-3,3],"sort":[{"field":"d"}]}],"mark":{"type":"line","color":"black","strokeWidth":2.8},"encoding":{"y":{"field":"m","type":"quantitative","axis":{"values":[0,20,40,60]},"title":null}}}
]},
{"title":{"text":"East Midlands","dy":102},"width":348,"height":78,"data":{"name":"daily"},
"encoding":{"x":{"field":"d","type":"temporal","scale":{"type":"utc","domain":[{"year":2022,"month":5,"date":1,"utc":true},{"year":2023,"month":6,"date":22,"utc":true}]},"axis":null},
"y":{"field":"e","type":"quantitative","scale":{"nice":false},"axis":{"values":[0,20,40,60]},"title":"daily attendances"}},
"layer":[
{"transform":[{"filter":"datum.t=='b'"}],"mark":{"type":"line","color":"black","strokeDash":[2.5,9],"strokeWidth":2.5},"encoding":{}},
{"transform":[{"filter":"datum.t!='b'"}],"mark":{"type":"line","color":"#00808F","strokeWidth":1.3},"encoding":{}},
{"transform":[{"filter":"datum.t!='b'"},{"window":[{"op":"mean","field":"e","as":"m"}],"frame":[-3,3],"sort":[{"field":"d"}]}],"mark":{"type":"line","color":"black","strokeWidth":2.8},"encoding":{"y":{"field":"m","type":"quantitative","axis":{"values":[0,20,40,60]},"title":"daily attendances"}}}
]},
{"title":{"text":"West Midlands","dy":4},"width":348,"height":78,"data":{"name":"daily"},
"encoding":{"x":{"field":"d","type":"temporal","scale":{"type":"utc","domain":[{"year":2022,"month":5,"date":1,"utc":true},{"year":2023,"month":6,"date":22,"utc":true}]},"axis":null},
"y":{"field":"f","type":"quantitative","scale":{"nice":false},"axis":{"values":[0,25,50,75,100]},"title":null}},
"layer":[
{"transform":[{"filter":"datum.t=='b'"}],"mark":{"type":"line","color":"black","strokeDash":[2.5,9],"strokeWidth":2.5},"encoding":{}},
{"transform":[{"filter":"datum.t!='b'"}],"mark":{"type":"line","color":"#00808F","strokeWidth":1.3},"encoding":{}},
{"transform":[{"filter":"datum.t!='b'"},{"window":[{"op":"mean","field":"f","as":"m"}],"frame":[-3,3],"sort":[{"field":"d"}]}],"mark":{"type":"line","color":"black","strokeWidth":2.8},"encoding":{"y":{"field":"m","type":"quantitative","axis":{"values":[0,25,50,75,100]},"title":null}}}
]},
{"title":{"text":"East of England","dy":4},"width":348,"height":78,"data":{"name":"daily"},
"encoding":{"x":{"field":"d","type":"temporal","scale":{"type":"utc","domain":[{"year":2022,"month":5,"date":1,"utc":true},{"year":2023,"month":6,"date":22,"utc":true}]},"axis":null},
"y":{"field":"g","type":"quantitative","scale":{"nice":false},"axis":{"values":[0,20,40,60]},"title":null}},
"layer":[
{"transform":[{"filter":"datum.t=='b'"}],"mark":{"type":"line","color":"black","strokeDash":[2.5,9],"strokeWidth":2.5},"encoding":{}},
{"transform":[{"filter":"datum.t!='b'"}],"mark":{"type":"line","color":"#00808F","strokeWidth":1.3},"encoding":{}},
{"transform":[{"filter":"datum.t!='b'"},{"window":[{"op":"mean","field":"g","as":"m"}],"frame":[-3,3],"sort":[{"field":"d"}]}],"mark":{"type":"line","color":"black","strokeWidth":2.8},"encoding":{"y":{"field":"m","type":"quantitative","axis":{"values":[0,20,40,60]},"title":null}}}
]},
{"title":{"text":"London","dy":4},"width":348,"height":78,"data":{"name":"daily"},
"encoding":{"x":{"field":"d","type":"temporal","scale":{"type":"utc","domain":[{"year":2022,"month":5,"date":1,"utc":true},{"year":2023,"month":6,"date":22,"utc":true}]},"axis":{"values":[{"year":2022,"month":5,"date":1,"utc":true},{"year":2022,"month":8,"date":1,"utc":true},{"year":2022,"month":11,"date":1,"utc":true},{"year":2023,"month":2,"date":1,"utc":true},{"year":2023,"month":5,"date":1,"utc":true}],"format":"%b %y","labelFlush":false,"title":null}},
"y":{"field":"h","type":"quantitative","scale":{"nice":false},"axis":{"values":[0,20,40,60]},"title":null}},
"layer":[
{"transform":[{"filter":"datum.t=='b'"}],"mark":{"type":"line","color":"black","strokeDash":[2.5,9],"strokeWidth":2.5},"encoding":{}},
{"transform":[{"filter":"datum.t!='b'"}],"mark":{"type":"line","color":"#00808F","strokeWidth":1.3},"encoding":{}},
{"transform":[{"filter":"datum.t!='b'"},{"window":[{"op":"mean","field":"h","as":"m"}],"frame":[-3,3],"sort":[{"field":"d"}]}],"mark":{"type":"line","color":"black","strokeWidth":2.8},"encoding":{"y":{"field":"m","type":"quantitative","axis":{"values":[0,20,40,60]},"title":null}}}
]},
{"title":{"text":"South East","dy":1},"width":348,"height":78,"data":{"name":"daily"},
"encoding":{"x":{"field":"d","type":"temporal","scale":{"type":"utc","domain":[{"year":2022,"month":5,"date":1,"utc":true},{"year":2023,"month":6,"date":22,"utc":true}]},"axis":{"values":[{"year":2022,"month":5,"date":1,"utc":true},{"year":2022,"month":8,"date":1,"utc":true},{"year":2022,"month":11,"date":1,"utc":true},{"year":2023,"month":2,"date":1,"utc":true},{"year":2023,"month":5,"date":1,"utc":true}],"format":"%b %y","labelFlush":false,"title":null}},
"y":{"field":"i","type":"quantitative","scale":{"nice":false},"axis":{"values":[0,10,20,30,40,50]},"title":null}},
"layer":[
{"transform":[{"filter":"datum.t=='b'"}],"mark":{"type":"line","color":"black","strokeDash":[2.5,9],"strokeWidth":2.5},"encoding":{}},
{"transform":[{"filter":"datum.t!='b'"}],"mark":{"type":"line","color":"#00808F","strokeWidth":1.3},"encoding":{}},
{"transform":[{"filter":"datum.t!='b'"},{"window":[{"op":"mean","field":"i","as":"m"}],"frame":[-3,3],"sort":[{"field":"d"}]}],"mark":{"type":"line","color":"black","strokeWidth":2.8},"encoding":{"y":{"field":"m","type":"quantitative","axis":{"values":[0,10,20,30,40,50]},"title":null}}}
]},
{"title":{"text":"South West","dy":1},"width":348,"height":78,"data":{"name":"daily"},
"encoding":{"x":{"field":"d","type":"temporal","scale":{"type":"utc","domain":[{"year":2022,"month":5,"date":1,"utc":true},{"year":2023,"month":6,"date":22,"utc":true}]},"axis":{"values":[{"year":2022,"month":5,"date":1,"utc":true},{"year":2022,"month":8,"date":1,"utc":true},{"year":2022,"month":11,"date":1,"utc":true},{"year":2023,"month":2,"date":1,"utc":true},{"year":2023,"month":5,"date":1,"utc":true}],"format":"%b %y","labelFlush":false,"title":null}},
"y":{"field":"j","type":"quantitative","scale":{"nice":false},"axis":{"values":[0,20,40,60]},"title":null}},
"layer":[
{"transform":[{"filter":"datum.t=='b'"}],"mark":{"type":"line","color":"black","strokeDash":[2.5,9],"strokeWidth":2.5},"encoding":{}},
{"transform":[{"filter":"datum.t!='b'"}],"mark":{"type":"line","color":"#00808F","strokeWidth":1.3},"encoding":{}},
{"transform":[{"filter":"datum.t!='b'"},{"window":[{"op":"mean","field":"j","as":"m"}],"frame":[-3,3],"sort":[{"field":"d"}]}],"mark":{"type":"line","color":"black","strokeWidth":2.8},"encoding":{"y":{"field":"m","type":"quantitative","axis":{"values":[0,20,40,60]},"title":null}}}
]}
]}]
}
